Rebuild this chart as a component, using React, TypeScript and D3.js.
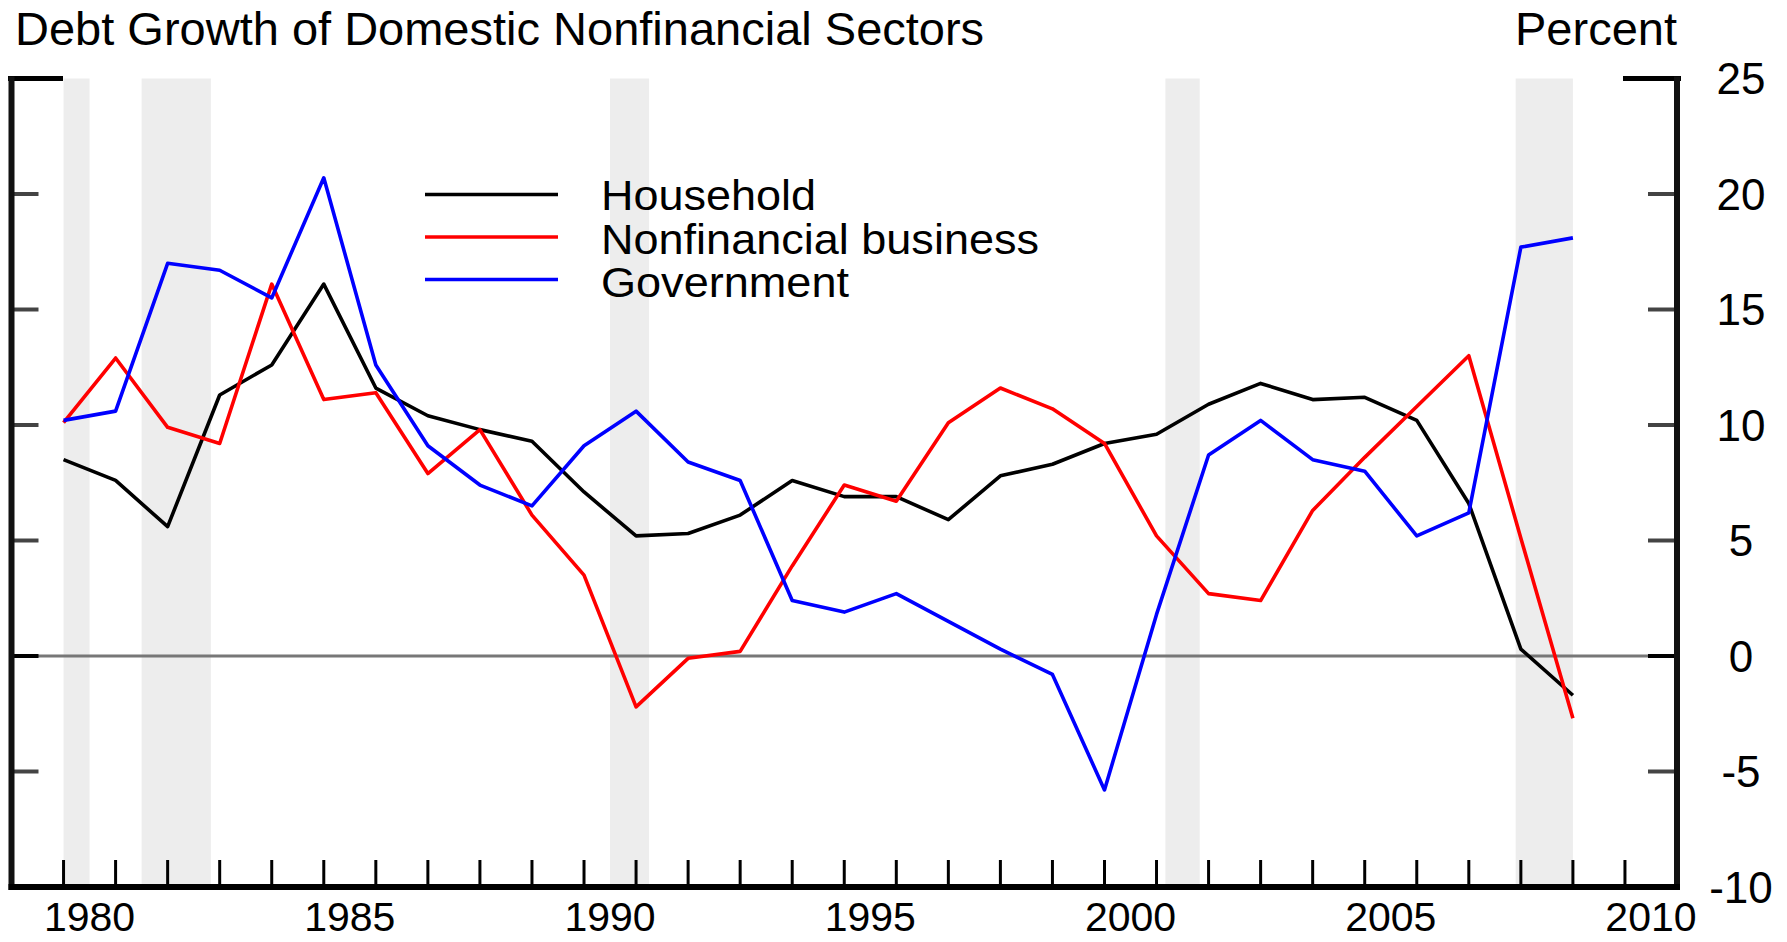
import * as d3 from 'd3'

// annual debt growth, percent (1980..2009)
const years = d3.range(1980, 2010)
const household = [8.5, 7.6, 5.6, 11.3, 12.6, 16.1, 11.6, 10.4, 9.8, 9.3, 7.1, 5.2, 5.3, 6.1, 7.6, 6.9, 6.9, 5.9, 7.8, 8.3, 9.2, 9.6, 10.9, 11.8, 11.1, 11.2, 10.2, 6.6, 0.3, -1.7]
const business = [10.1, 12.9, 9.9, 9.2, 16.1, 11.1, 11.4, 7.9, 9.8, 6.1, 3.5, -2.2, -0.1, 0.2, 3.9, 7.4, 6.7, 10.1, 11.6, 10.7, 9.2, 5.2, 2.7, 2.4, 6.3, 8.6, 10.8, 13.0, 5.1, -2.7]
const government = [10.2, 10.6, 17.0, 16.7, 15.5, 20.7, 12.6, 9.1, 7.4, 6.5, 9.1, 10.6, 8.4, 7.6, 2.4, 1.9, 2.7, 1.5, 0.3, -0.8, -5.8, 1.8, 8.7, 10.2, 8.5, 8.0, 5.2, 6.2, 17.7, 18.1]

// recession shading, start / end in fractional years
const recessions = [
  [1980.0, 1980.5],
  [1981.5, 1982.83],
  [1990.5, 1991.25],
  [2001.17, 2001.83],
  [2007.9, 2009.0],
]

const yTicks = [25, 20, 15, 10, 5, 0, -5, -10]
const xTicks = d3.range(1980, 2011)
const xLabels = [1980, 1985, 1990, 1995, 2000, 2005, 2010]

const series = [
  { name: 'Household', values: household, color: '#000000', len: 215 },
  { name: 'Nonfinancial business', values: business, color: '#ff0000', len: 438 },
  { name: 'Government', values: government, color: '#0000ff', len: 248 },
]

const W = 1787
const H = 942
const left = 11.5
const right = 1677
const top = 78.5
const bottom = 887

export default function App() {
  const x = d3.scaleLinear().domain([1979, 2011]).range([left, right])
  const y = d3.scaleLinear().domain([-10, 25]).range([bottom, top])

  const line = d3
    .line<number>()
    .x((d, i) => x(years[i]))
    .y((d) => y(d))

  const font = "'Liberation Sans', Arial, sans-serif"

  return (
    <svg
      width={W}
      height={H}
      style={{ position: 'absolute', left: 0, top: 0, background: '#fff' }}
      fontFamily={font}>
      {/* recession bands */}
      {recessions.map(([a, b], i) => (
        <rect key={i} x={x(a)} y={top} width={x(b) - x(a)} height={bottom - top} fill='#ededed' />
      ))}

      {/* zero line */}
      <line x1={left} x2={right} y1={y(0)} y2={y(0)} stroke='#777' strokeWidth={3.2} />

      {/* y ticks, both sides */}
      {yTicks.filter((t) => t < 25 && t > -10).map((t) => (
        <g key={t}>
          <line x1={left} x2={left + 27} y1={y(t)} y2={y(t)} stroke={t === 0 ? '#000' : '#444'} strokeWidth={4} />
          <line x1={right - 29} x2={right} y1={y(t)} y2={y(t)} stroke={t === 0 ? '#000' : '#444'} strokeWidth={4} />
        </g>
      ))}
      {/* corner ticks at 25 */}
      <line x1={8} x2={63} y1={y(25)} y2={y(25)} stroke='#000' strokeWidth={5} />
      <line x1={1623} x2={right + 4} y1={y(25)} y2={y(25)} stroke='#000' strokeWidth={5} />

      {/* x ticks */}
      {xTicks.map((t) => (
        <line key={t} x1={x(t)} x2={x(t)} y1={bottom - 27} y2={bottom} stroke='#000' strokeWidth={3} />
      ))}

      {/* frame */}
      <line x1={left} x2={left} y1={top - 2} y2={bottom + 3} stroke='#111' strokeWidth={6} />
      <line x1={right} x2={right} y1={top - 2} y2={bottom + 3} stroke='#111' strokeWidth={6} />
      <line x1={left - 3} x2={right + 3} y1={bottom} y2={bottom} stroke='#000' strokeWidth={6} />

      {/* data */}
      {series.map((s) => (
        <path key={s.name} d={line(s.values) || ''} fill='none' stroke={s.color} strokeWidth={3.6} strokeLinejoin='round' />
      ))}

      {/* legend */}
      {series.map((s, i) => (
        <g key={s.name}>
          <line x1={425} x2={558} y1={194.5 + i * 42.5} y2={194.5 + i * 42.5} stroke={s.color} strokeWidth={3.6} />
          <text x={601} y={210 + i * 43.5} fontSize={43} fill='#000' textLength={s.len} lengthAdjust='spacingAndGlyphs'>
            {s.name}
          </text>
        </g>
      ))}

      {/* y labels */}
      {yTicks.map((t) => (
        <text key={t} x={1741} y={y(t)} dy='0.36em' fontSize={44} textAnchor='middle' fill='#000'>
          {t}
        </text>
      ))}

      {/* x labels */}
      {xLabels.map((t) => (
        <text key={t} x={x(t + 0.5)} y={931} fontSize={41} textAnchor='middle' fill='#000'>
          {t}
        </text>
      ))}

      <text x={15} y={45} fontSize={47} fill='#000'>
        Debt Growth of Domestic Nonfinancial Sectors
      </text>
      <text x={right} y={45} fontSize={47} textAnchor='end' fill='#000'>
        Percent
      </text>
    </svg>
  )
}
